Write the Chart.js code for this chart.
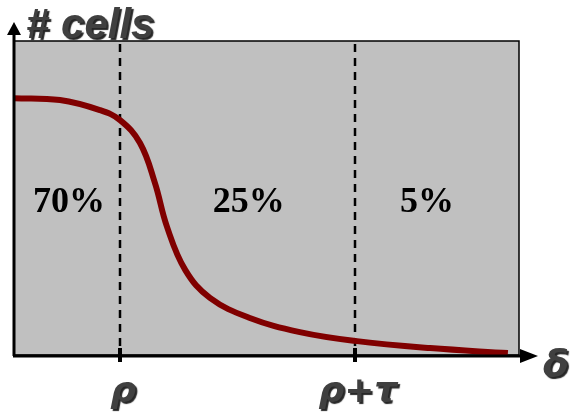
<!DOCTYPE html>
<html>
<head>
<meta charset="utf-8">
<script src="https://cdn.jsdelivr.net/npm/chart.js@4.4.1/dist/chart.umd.min.js"></script>
<style>
  body { margin: 0; background: #ffffff; }
  #wrap { width: 572px; height: 419px; }
</style>
</head>
<body>
<div id="wrap"><canvas id="cellChart" width="572" height="419"></canvas></div>
<script>
// delta (0-100 across the box) and # cells (0-100 of box height)
var deltaValues = [0, 9.1, 17.0, 21.0, 24.95, 27.9, 30.3, 33.9, 38.8, 46.7, 56.6, 67.5, 82.4, 97.8];
var cellCounts  = [81.8, 81.2, 78.0, 74.8, 67.5, 54.8, 40.8, 27.1, 18.2, 11.8, 7.3, 4.5, 2.2, 0.6];

// thresholds on the delta axis
var thresholdValues = [21, 67.5];
var thresholdLabels = ['ρ', 'ρ+τ'];

// share of cells in each region
var regionLabels = ['70%', '25%', '5%'];
var regionCenters = [10.9, 46.5, 81.8];

var points = [];
for (var i = 0; i < deltaValues.length; i++) {
    points.push({ x: deltaValues[i], y: cellCounts[i] });
}

// Draws the gray box, the axes with arrows, dashed thresholds and texts
var sketchPlugin = {
    id: 'sketch',
    beforeDatasetsDraw: function(chart) {
        var ctx = chart.ctx;
        var a = chart.chartArea;
        var xs = chart.scales.x;
        ctx.save();
        ctx.fillStyle = '#c0c0c0';
        ctx.fillRect(a.left, a.top, a.right - a.left, a.bottom - a.top);
        ctx.strokeStyle = '#000000';
        ctx.lineWidth = 1.5;
        ctx.strokeRect(a.left, a.top, a.right - a.left, a.bottom - a.top);

        // dashed threshold lines
        ctx.lineWidth = 2.5;
        ctx.setLineDash([8, 6]);
        thresholdValues.forEach(function(v) {
            var px = Math.round(xs.getPixelForValue(v));
            ctx.beginPath();
            ctx.moveTo(px, a.top + 3);
            ctx.lineTo(px, a.bottom);
            ctx.stroke();
        });
        ctx.setLineDash([]);

        // region percentages
        ctx.fillStyle = '#000000';
        ctx.font = 'bold 36px "Liberation Serif", "Times New Roman", serif';
        ctx.textAlign = 'center';
        ctx.textBaseline = 'middle';
        var ymid = chart.scales.y.getPixelForValue(48.6);
        regionLabels.forEach(function(t, i) {
            ctx.fillText(t, xs.getPixelForValue(regionCenters[i]), ymid);
        });
        ctx.restore();
    },
    afterDatasetsDraw: function(chart) {
        var ctx = chart.ctx;
        var a = chart.chartArea;
        var xs = chart.scales.x;
        ctx.save();
        ctx.strokeStyle = '#000000';
        ctx.fillStyle = '#000000';
        ctx.lineWidth = 3;
        // y axis
        ctx.beginPath();
        ctx.moveTo(a.left, a.bottom + 1);
        ctx.lineTo(a.left, 34);
        ctx.stroke();
        ctx.beginPath();
        ctx.moveTo(a.left, 22);
        ctx.lineTo(a.left - 7, 35);
        ctx.lineTo(a.left + 7, 35);
        ctx.closePath();
        ctx.fill();
        // x axis
        ctx.beginPath();
        ctx.moveTo(a.left - 1, a.bottom + 1);
        ctx.lineTo(522, a.bottom + 1);
        ctx.stroke();
        ctx.beginPath();
        ctx.moveTo(538, a.bottom + 1);
        ctx.lineTo(520, a.bottom - 6);
        ctx.lineTo(520, a.bottom + 8);
        ctx.closePath();
        ctx.fill();
        // tick stubs
        thresholdValues.forEach(function(v) {
            var px = Math.round(xs.getPixelForValue(v));
            ctx.fillRect(px - 2, a.bottom - 7, 4, 14);
        });

        // axis texts with shadow
        ctx.font = 'italic bold 42px "Liberation Sans", Arial, sans-serif';
        ctx.textBaseline = 'alphabetic';
        ctx.shadowColor = 'rgba(0,0,0,0.85)';
        ctx.shadowOffsetX = 2;
        ctx.shadowOffsetY = 2;
        ctx.shadowBlur = 1;
        ctx.fillStyle = '#404040';
        ctx.textAlign = 'left';
        ctx.fillText('# cells', 26, 38);

        ctx.textAlign = 'center';
        ctx.font = 'italic bold 38px "DejaVu Sans", "Liberation Sans", sans-serif';
        ctx.fillText('δ', 556, 376);

        ctx.font = 'italic bold 36px "DejaVu Sans", "Liberation Sans", sans-serif';
        thresholdLabels.forEach(function(t, i) {
            ctx.fillText(t, xs.getPixelForValue(thresholdValues[i]) + 3, 402);
        });
        ctx.restore();
    }
};

var ctx = document.getElementById('cellChart').getContext('2d');
var cellChart = new Chart(ctx, {
    type: 'line',
    data: {
        datasets: [{
            data: points,
            borderColor: '#800000',
            borderWidth: 6,
            pointRadius: 0,
            fill: false,
            tension: 0.4
        }]
    },
    options: {
        responsive: false,
        animation: false,
        layout: {
            padding: { left: 14, right: 53, top: 41, bottom: 64 }
        },
        plugins: {
            legend: { display: false },
            tooltip: { enabled: false }
        },
        scales: {
            x: { type: 'linear', min: 0, max: 100, display: false },
            y: { min: 0, max: 100, display: false }
        }
    },
    plugins: [sketchPlugin]
});
</script>
</body>
</html>
